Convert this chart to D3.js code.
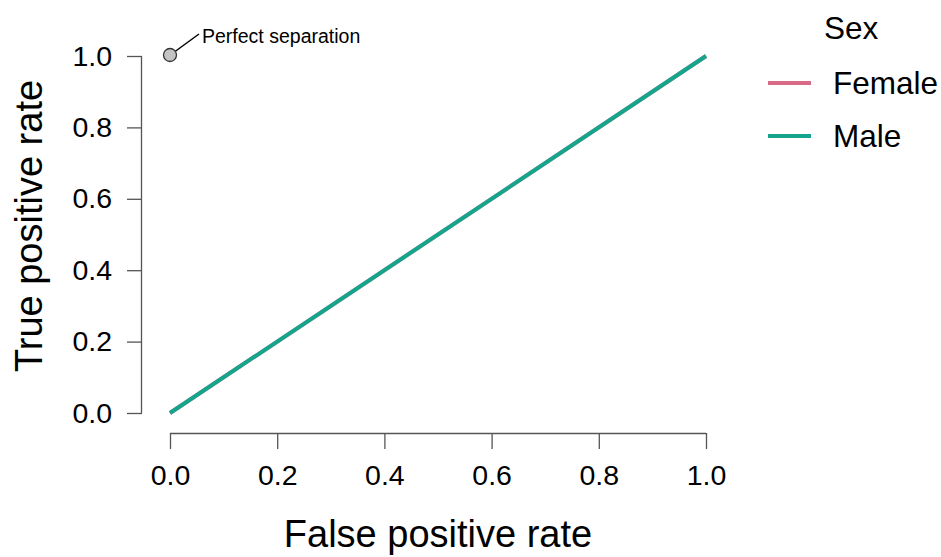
<!DOCTYPE html>
<html>
<head>
<meta charset="utf-8">
<script src="https://cdn.jsdelivr.net/npm/d3@7"></script>
<style>
  body { margin: 0; background: #fff; }
  text { font-family: "Liberation Sans", Arial, sans-serif; fill: #000; }
</style>
</head>
<body>
<div id="chart"></div>
<script>
// data
var groups = ["Female", "Male"];
var groupColors = ["#DA6B87", "#14A58C"];
var fprFemale = [0, 1];
var tprFemale = [0, 1];
var fprMale = [0, 1];
var tprMale = [0, 1];
var ticks = [0, 0.2, 0.4, 0.6, 0.8, 1.0];
var tickLabels = ["0.0", "0.2", "0.4", "0.6", "0.8", "1.0"];
var perfectPoint = [0, 1];
var perfectLabel = "Perfect separation";

var W = 941, H = 557;

var svg = d3.select("#chart").append("svg")
  .attr("width", W)
  .attr("height", H);

var x = d3.scaleLinear().domain([0, 1]).range([170, 706]);
var y = d3.scaleLinear().domain([0, 1]).range([413, 56]);

// x axis (offset below the plot, base-R style)
var xAxis = svg.append("g")
  .attr("transform", "translate(0,433)")
  .call(d3.axisBottom(x).tickValues(ticks).tickSize(16).tickPadding(16)
    .tickFormat(function(d, i) { return tickLabels[i]; }));
xAxis.select(".domain").attr("d", "M" + x(0) + ",0.5H" + x(1)).attr("stroke", "#555").attr("stroke-width", 1.3);
xAxis.selectAll(".tick line").attr("stroke", "#555").attr("stroke-width", 1.3);
xAxis.selectAll(".tick text").attr("font-size", "28.5px").attr("font-family", "Liberation Sans, Arial, sans-serif").attr("fill", "#000");

// y axis
var yAxis = svg.append("g")
  .attr("transform", "translate(142,0)")
  .call(d3.axisLeft(y).tickValues(ticks).tickSize(15).tickPadding(15)
    .tickFormat(function(d, i) { return tickLabels[i]; }));
yAxis.select(".domain").attr("d", "M-0.5," + y(0) + "V" + y(1)).attr("stroke", "#555").attr("stroke-width", 1.3);
yAxis.selectAll(".tick line").attr("stroke", "#555").attr("stroke-width", 1.3);
yAxis.selectAll(".tick text").attr("font-size", "28.5px").attr("font-family", "Liberation Sans, Arial, sans-serif").attr("fill", "#000");

// axis titles
svg.append("text")
  .attr("x", 438).attr("y", 547)
  .attr("text-anchor", "middle")
  .attr("font-size", "38px")
  .text("False positive rate");

svg.append("text")
  .attr("transform", "translate(42,226) rotate(-90)")
  .attr("text-anchor", "middle")
  .attr("font-size", "38px")
  .text("True positive rate");

// ROC lines
var line = d3.line()
  .x(function(d) { return x(d[0]); })
  .y(function(d) { return y(d[1]); });

var series = [
  d3.zip(fprFemale, tprFemale),
  d3.zip(fprMale, tprMale)
];

svg.selectAll(".roc")
  .data(series)
  .enter()
  .append("path")
  .attr("class", "roc")
  .attr("d", line)
  .attr("fill", "none")
  .attr("stroke", function(d, i) { return groupColors[i]; })
  .attr("stroke-width", 4);

// perfect separation marker
var px = x(perfectPoint[0]), py = y(perfectPoint[1]) - 1;
svg.append("line")
  .attr("x1", px + 3).attr("y1", py - 2)
  .attr("x2", px + 29).attr("y2", py - 21)
  .attr("stroke", "#000")
  .attr("stroke-width", 1.5);
svg.append("circle")
  .attr("cx", px).attr("cy", py).attr("r", 6.5)
  .attr("fill", "#C4C4C4")
  .attr("stroke", "#333")
  .attr("stroke-width", 1.3);
svg.append("text")
  .attr("x", px + 32).attr("y", py - 12)
  .attr("font-size", "19.5px")
  .text(perfectLabel);

// legend
svg.append("text")
  .attr("x", 824).attr("y", 39)
  .attr("font-size", "31.5px")
  .text("Sex");

var legend = svg.selectAll(".legend")
  .data(groups)
  .enter()
  .append("g")
  .attr("class", "legend")
  .attr("transform", function(d, i) { return "translate(768," + (83 + i * 53) + ")"; });

legend.append("line")
  .attr("x1", 0).attr("x2", 43)
  .attr("stroke", function(d, i) { return groupColors[i]; })
  .attr("stroke-width", 4);

legend.append("text")
  .attr("x", 65).attr("y", 11)
  .attr("font-size", "31.5px")
  .text(function(d) { return d; });
</script>
</body>
</html>
